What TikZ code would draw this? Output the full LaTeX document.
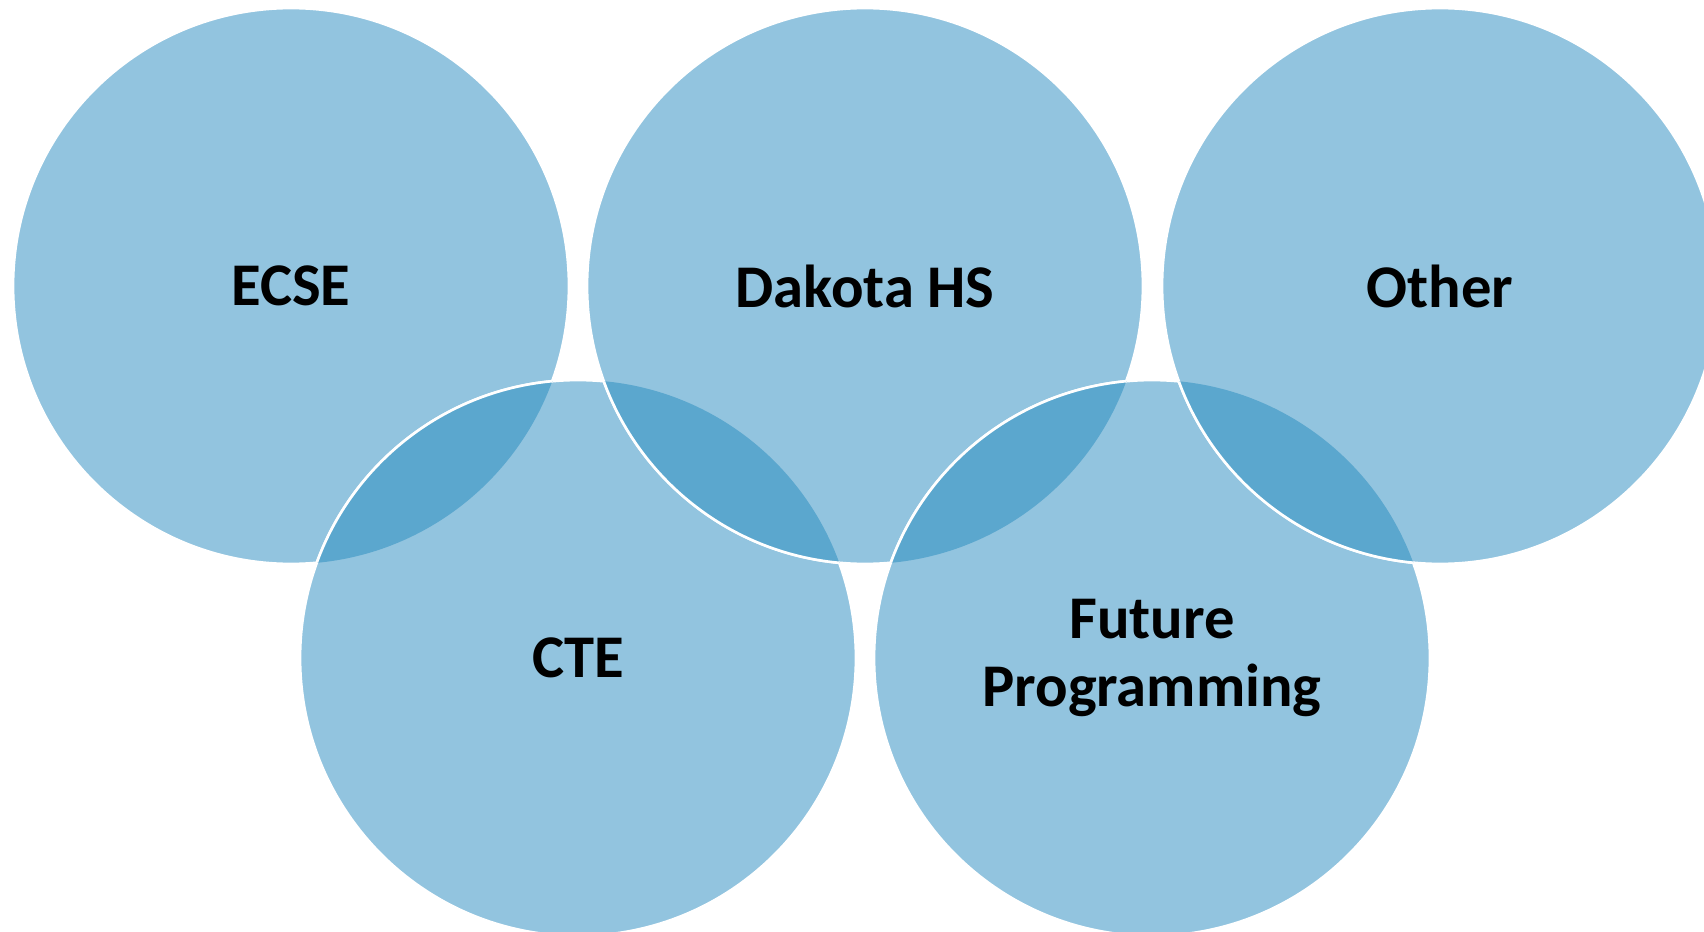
\documentclass[tikz,border=0pt]{standalone}
\usepackage{fontspec}
\setmainfont{Carlito}
\usepackage{tikz}
\definecolor{ringblue}{RGB}{146,196,223}
\definecolor{lensblue}{RGB}{91,167,206}

\begin{document}
\begin{tikzpicture}[x=0.02cm,y=-0.02cm]
        \tikzstyle{r} = [circle, fill=ringblue, draw=white, line width=1.5pt, minimum size=11.12cm, inner sep=0pt, align=center, font=\fontsize{34.5}{39}\selectfont\bfseries]
        \tikzstyle{l} = [fill=lensblue];
        \useasboundingbox (0,0) rectangle (1704,932);

        \node[r](ecse) at (291,286){ECSE};
        \node[r](cte) at (578,658){CTE};
        \begin{scope}
          \clip (ecse.center) circle (278);
          \fill[l] (cte.center) circle (278);
          \draw[white, line width=1.5pt] (cte.center) circle (278);
        \end{scope}

        \node[r](dak) at (865,286){Dakota HS};
        \begin{scope}
          \clip (cte.center) circle (278);
          \fill[l] (dak.center) circle (278);
          \draw[white, line width=1.5pt] (dak.center) circle (278);
        \end{scope}

        \node[r](fut) at (1152,658){Future\\Programming};
        \begin{scope}
          \clip (dak.center) circle (278);
          \fill[l] (fut.center) circle (278);
          \draw[white, line width=1.5pt] (fut.center) circle (278);
        \end{scope}

        \node[r](oth) at (1440,286){Other};
        \begin{scope}
          \clip (fut.center) circle (278);
          \fill[l] (oth.center) circle (278);
          \draw[white, line width=1.5pt] (oth.center) circle (278);
        \end{scope}

    \end{tikzpicture}
\end{document}
